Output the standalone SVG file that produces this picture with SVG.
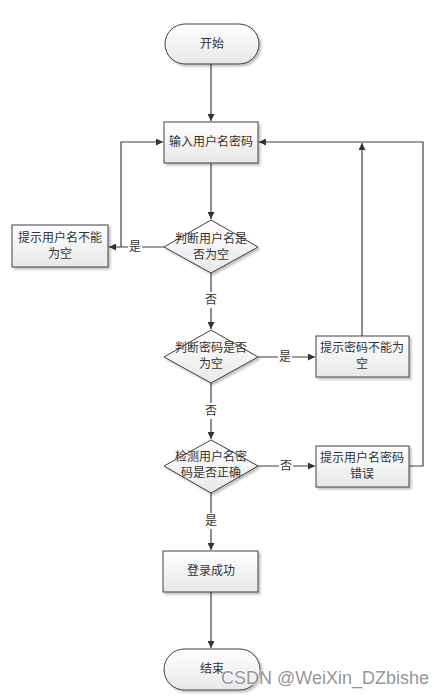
<svg xmlns="http://www.w3.org/2000/svg" width="448" height="698" viewBox="0 0 448 698">
<style>
.s{fill:url(#g);stroke:#404040;stroke-width:1;filter:url(#sh)}
.t{font-family:"Noto Sans CJK SC","Liberation Sans",sans-serif;font-size:12px;fill:#333;text-anchor:middle}
.c{fill:none;stroke:#404040;stroke-width:1.2}
.lb{font-family:"Noto Sans CJK SC","Liberation Sans",sans-serif;font-size:12px;fill:#333;text-anchor:middle}
.lbg{fill:#fff}
</style>
<defs>
<linearGradient id="g" x1="0" y1="0" x2="0" y2="1"><stop offset="0" stop-color="#ffffff"/><stop offset="1" stop-color="#e8e8e8"/></linearGradient>
<filter id="sh" x="-10%" y="-10%" width="130%" height="140%"><feDropShadow dx="2" dy="2" stdDeviation="1.2" flood-color="#000" flood-opacity="0.25"/></filter>
<marker id="a" viewBox="0 0 10 10" refX="10" refY="5" markerWidth="7" markerHeight="7" orient="auto" markerUnits="userSpaceOnUse"><path d="M0,0L10,5L0,10z" fill="#333"/></marker>
</defs>
<rect width="448" height="698" fill="#fff"/>
<g id="connectors">
<path class="c" d="M211,64V121" marker-end="url(#a)"/>
<path class="c" d="M211,163V219" marker-end="url(#a)"/>
<path class="c" d="M165,247H109" marker-end="url(#a)"/>
<path class="c" d="M121,247V142H163" marker-end="url(#a)"/>
<path class="c" d="M211,273V329" marker-end="url(#a)"/>
<path class="c" d="M258,357H315" marker-end="url(#a)"/>
<path class="c" d="M362,336V143" marker-end="url(#a)"/>
<path class="c" d="M211,383V439" marker-end="url(#a)"/>
<path class="c" d="M258,466H315" marker-end="url(#a)"/>
<path class="c" d="M409,466H423V142H259" marker-end="url(#a)"/>
<path class="c" d="M211,493V550" marker-end="url(#a)"/>
<path class="c" d="M211,592V648" marker-end="url(#a)"/>
<rect class="lbg" x="128" y="239" width="14" height="16"/>
<text class="lb" x="135" y="251">是</text>
<rect class="lbg" x="204" y="292" width="14" height="16"/>
<text class="lb" x="211" y="304">否</text>
<rect class="lbg" x="278" y="349" width="14" height="16"/>
<text class="lb" x="285" y="361">是</text>
<rect class="lbg" x="204" y="403" width="14" height="16"/>
<text class="lb" x="211" y="415">否</text>
<rect class="lbg" x="279" y="458" width="14" height="16"/>
<text class="lb" x="286" y="470">否</text>
<rect class="lbg" x="204" y="513" width="14" height="16"/>
<text class="lb" x="211" y="525">是</text>
</g>
<g id="start">
<rect class="s" x="165" y="24" width="94" height="40" rx="20"/>
<text class="t" x="212" y="48">开始</text>
</g>
<g id="input">
<rect class="s" x="164" y="122" width="94" height="41"/>
<text class="t" x="211" y="146">输入用户名密码</text>
</g>
<g id="check1">
<path class="s" d="M211,220L258,247L211,273L164,247z"/>
<text class="t" x="211" y="243">判断用户名是</text>
<text class="t" x="211" y="259">否为空</text>
</g>
<g id="msg1">
<rect class="s" x="12" y="225" width="96" height="42"/>
<text class="t" x="60" y="242">提示用户名不能</text>
<text class="t" x="60" y="258">为空</text>
</g>
<g id="check2">
<path class="s" d="M211,330L258,357L211,383L164,357z"/>
<text class="t" x="211" y="352">判断密码是否</text>
<text class="t" x="211" y="368">为空</text>
</g>
<g id="msg2">
<rect class="s" x="316" y="336" width="93" height="41"/>
<text class="t" x="362" y="352">提示密码不能为</text>
<text class="t" x="362" y="368">空</text>
</g>
<g id="check3">
<path class="s" d="M211,440L258,466L211,493L164,466z"/>
<text class="t" x="211" y="461">检测用户名密</text>
<text class="t" x="211" y="477">码是否正确</text>
</g>
<g id="msg3">
<rect class="s" x="316" y="446" width="93" height="41"/>
<text class="t" x="362" y="462">提示用户名密码</text>
<text class="t" x="362" y="478">错误</text>
</g>
<g id="success">
<rect class="s" x="163" y="551" width="95" height="41"/>
<text class="t" x="211" y="575">登录成功</text>
</g>
<g id="end">
<rect class="s" x="164" y="649" width="96" height="41" rx="20.5"/>
<text class="t" x="212" y="673">结束</text>
</g>
<text x="325" y="684" font-family="Liberation Sans, Arial, sans-serif" font-size="18" fill="#888" fill-opacity="0.9" stroke="#fff" stroke-width="2" stroke-opacity="0.6" style="paint-order:stroke" text-anchor="middle">CSDN @WeiXin_DZbishe</text>
</svg>
